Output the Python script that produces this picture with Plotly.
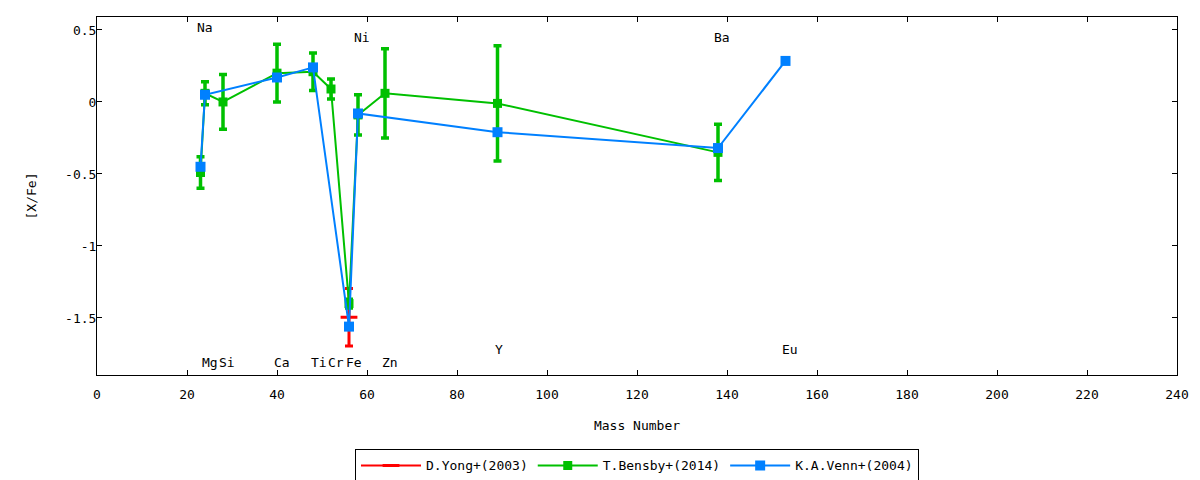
import plotly.graph_objects as go

# D.Yong+(2003): only Fe
yong_mass = [56]
yong_val = [-1.495]
yong_err = [0.2]

# T.Bensby+(2014)
bensby_mass = [23, 24, 28, 40, 48, 52, 56, 58, 64, 89, 138]
bensby_val = [-0.49, 0.06, 0.0, 0.2, 0.21, 0.09, -1.40, -0.09, 0.06, -0.01, -0.35]
bensby_err = [0.11, 0.08, 0.19, 0.2, 0.13, 0.07, 0.03, 0.14, 0.31, 0.4, 0.195]

# K.A.Venn+(2004)
venn_mass = [23, 24, 40, 48, 56, 58, 89, 138, 153]
venn_val = [-0.45, 0.05, 0.17, 0.24, -1.56, -0.08, -0.21, -0.32, 0.285]
venn_err = [0, 0, 0, 0, 0, 0, 0, 0, 0]

# element labels
label_text = ["Na", "Ni", "Ba", "Mg", "Si", "Ca", "Ti", "Cr", "Fe", "Zn", "Y", "Eu"]
label_x = [24.0, 58.9, 138.9, 25.1, 28.9, 41.0, 49.3, 53.2, 57.1, 65.1, 89.3, 154.0]
label_y = [0.52, 0.45, 0.45, -1.81, -1.81, -1.81, -1.81, -1.81, -1.81, -1.81, -1.72, -1.72]

x_ticks = [0, 20, 40, 60, 80, 100, 120, 140, 160, 180, 200, 220, 240]
y_ticks = [0.5, 0, -0.5, -1, -1.5]
y_tick_text = ["0.5", "0", "-0.5", "-1", "-1.5"]

font = "DejaVu Sans Mono"

fig = go.Figure()

fig.add_trace(go.Scatter(
    x=yong_mass, y=yong_val, name="D.Yong+(2003)", mode="lines+markers",
    line=dict(color="#ff0000", width=2),
    marker=dict(symbol="line-ew", size=12, line=dict(color="#ff0000", width=3)),
    error_y=dict(type="data", array=yong_err, color="#ff0000", thickness=3, width=4),
))
fig.add_trace(go.Scatter(
    x=bensby_mass, y=bensby_val, name="T.Bensby+(2014)", mode="lines+markers",
    line=dict(color="#00c000", width=2),
    marker=dict(symbol="square", size=9, color="#00c000"),
    error_y=dict(type="data", array=bensby_err, color="#00c000", thickness=3.5, width=4),
))
fig.add_trace(go.Scatter(
    x=venn_mass, y=venn_val, name="K.A.Venn+(2004)", mode="lines+markers",
    line=dict(color="#0080ff", width=2),
    marker=dict(symbol="square", size=10, color="#0080ff"),
    error_y=dict(type="data", array=venn_err, color="#0080ff", thickness=3, width=4),
))

for t, lx, ly in zip(label_text, label_x, label_y):
    fig.add_annotation(x=lx, y=ly, text=t, showarrow=False,
                       font=dict(family=font, size=13, color="black"))

axis_style = dict(showline=True, linecolor="black", linewidth=1, mirror="ticks",
                  ticks="inside", ticklen=5, tickcolor="black", showgrid=False,
                  zeroline=False, automargin=False,
                  tickfont=dict(family=font, size=13, color="black"))

fig.update_xaxes(range=[0, 240], tickvals=x_ticks, ticklabelstandoff=7,
                 title=dict(text="Mass Number", standoff=20,
                            font=dict(family=font, size=13, color="black")),
                 **axis_style)
fig.update_yaxes(range=[-1.896, 0.59], tickvals=y_ticks, ticktext=y_tick_text,
                 ticklabelstandoff=-3,
                 title=dict(text="[X/Fe]", standoff=25,
                            font=dict(family=font, size=13, color="black")),
                 **axis_style)

# the page adds an 8px body margin, so margins are shifted to compensate
fig.update_layout(
    width=1200, height=480,
    margin=dict(l=89, r=31, t=9, b=113, autoexpand=False),
    plot_bgcolor="white", paper_bgcolor="white",
    font=dict(family=font, size=13, color="black"),
    legend=dict(orientation="h", x=0.5, xanchor="center", y=-0.208, yanchor="top",
                bordercolor="black", borderwidth=1, font=dict(family=font, size=13),
                itemwidth=60),
)

fig.write_html("out.html")
